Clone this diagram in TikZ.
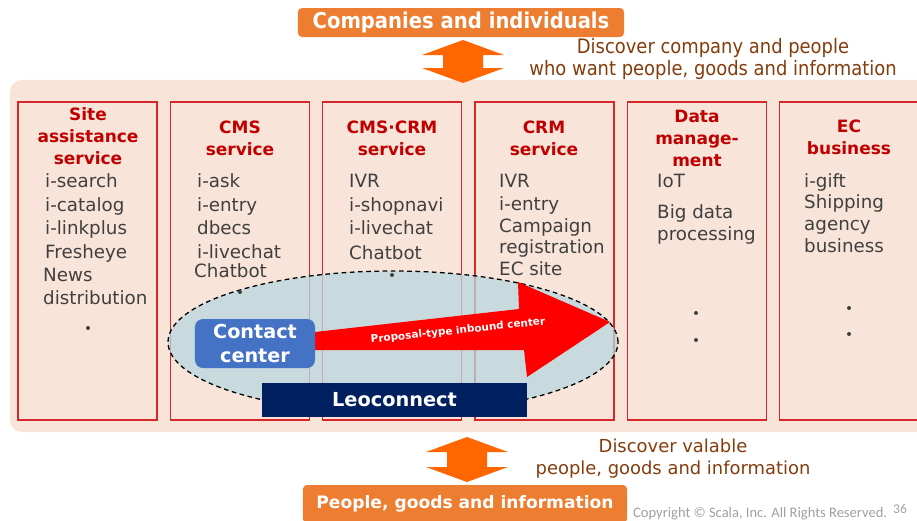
\documentclass[tikz,border=0pt]{standalone}
\usepackage{fontspec}
\setmainfont{DejaVu Sans}
\newfontfamily\narrowfont{DejaVu Sans}[FakeStretch=0.9]
\newfontfamily\copyfont{Carlito}
\usetikzlibrary{shapes.geometric,positioning}

\definecolor{panelfill}{RGB}{248,228,216}
\definecolor{colborder}{RGB}{214,40,40}
\definecolor{titlered}{RGB}{192,0,0}
\definecolor{itemgray}{RGB}{64,64,64}
\definecolor{boxorange}{RGB}{237,125,49}
\definecolor{arroworange}{RGB}{255,102,0}
\definecolor{notebrown}{RGB}{132,60,12}
\definecolor{ccblue}{RGB}{68,114,196}
\definecolor{leonavy}{RGB}{0,32,96}
\definecolor{ovalfill}{RGB}{185,215,225}
\definecolor{copygray}{RGB}{160,160,160}

\tikzset{%
  % Specifications for style of the blocks:
   panel/.style = {rectangle, rounded corners=0.36cm, fill=panelfill,
                  minimum width=27.6cm, minimum height=10.56cm},
   service/.style = {rectangle, draw=colborder, line width=1.1pt, fill=panelfill,
                  minimum width=4.17cm, minimum height=9.54cm},
   banner/.style = {rectangle, rounded corners=0.12cm, fill=boxorange,
                  text=white, inner sep=0pt},
   contact/.style = {rectangle, rounded corners=0.24cm, fill=ccblue, text=white,
                  minimum width=3.6cm, minimum height=1.47cm, align=center,
                  font=\fontsize{16.4}{20.4}\selectfont\bfseries},
   leo/.style = {rectangle, fill=leonavy, text=white,
                  minimum width=7.95cm, minimum height=1.02cm,
                  font=\fontsize{16.5}{20}\selectfont\bfseries},
   oval/.style = {ellipse, draw=black, line width=1.1pt, dash pattern=on 4pt off 3pt,
                  fill=ovalfill, fill opacity=0.75, inner sep=0pt,
                  minimum width=13.5cm, minimum height=4.26cm},
  % Specifications for style of the texts:
   coltitle/.style = {font=\fontsize{14.5}{18}\selectfont\bfseries, text=titlered,
                  inner sep=0pt, anchor=base},
   item/.style = {font=\fontsize{15.6}{19}\selectfont, text=itemgray,
                  inner sep=0pt, anchor=base west},
   moredot/.style = {circle, fill=itemgray, inner sep=0pt, minimum size=3.4pt},
   note/.style = {text=notebrown, align=center, inner sep=0pt},
  % Specifications for style of the arrows:
   twoway/.style = {fill=arroworange},
   proposal/.style = {fill=red},
}

\begin{document}
\begin{tikzpicture}[x=0.03cm, y=-0.03cm]
  \clip (0,0) rectangle (917,520);

  % Panel and service columns
  \node (panel) [panel] at (470,256) {};
  \node (col1) [service] at (87.5,261) {};
  \node (col2) [service, right=0.36cm of col1] {};
  \node (col3) [service, right=0.36cm of col2] {};
  \node (col4) [service, right=0.36cm of col3] {};
  \node (col5) [service, right=0.36cm of col4] {};
  \node (col6) [service, right=0.36cm of col5] {};

  % Customer area
  \node (oval) [oval] at (393,342) {};

  % Column titles
  \foreach \t [count=\i] in {Site,assistance,service}
    \node (t1-\i) [coltitle] at (88,98+22*\i) {\t};
  \foreach \t [count=\i] in {CMS,service}
    \node (t2-\i) [coltitle] at (240,111+22*\i) {\t};
  \foreach \t [count=\i] in {CMS·CRM,service}
    \node (t3-\i) [coltitle] at (392,111+22*\i) {\t};
  \foreach \t [count=\i] in {CRM,service}
    \node (t4-\i) [coltitle] at (544,111+22*\i) {\t};
  \foreach \t [count=\i] in {Data,manage-,ment}
    \node (t5-\i) [coltitle] at (697,100+22*\i) {\t};
  \foreach \t [count=\i] in {EC,business}
    \node (t6-\i) [coltitle] at (849,110+22*\i) {\t};

  % Column items
  \foreach \y/\t [count=\i] in {187/i-search,211/i-catalog,234/i-linkplus,258/Fresheye}
    \node (s1-\i) [item] at (45,\y) {\t};
  \node (s1-5) [item] at (43,281) {News};
  \node (s1-6) [item] at (43,304) {distribution};
  \foreach \y/\t [count=\i] in {187/i-ask,211/i-entry,234/dbecs,258/i-livechat}
    \node (s2-\i) [item] at (197,\y) {\t};
  \node (s2-5) [item] at (194,277) {Chatbot};
  \foreach \y/\t [count=\i] in {187/IVR,211/i-shopnavi,234/i-livechat,259/Chatbot}
    \node (s3-\i) [item] at (349,\y) {\t};
  \foreach \y/\t [count=\i] in {187/IVR,210/i-entry,232/Campaign,253/registration,275/EC site}
    \node (s4-\i) [item] at (499,\y) {\t};
  \foreach \y/\t [count=\i] in {187/IoT,218/Big data,240/processing}
    \node (s5-\i) [item] at (657,\y) {\t};
  \foreach \y/\t [count=\i] in {187/i-gift,208/Shipping,230/agency,252/business}
    \node (s6-\i) [item] at (804,\y) {\t};

  % Continuation marks
  \foreach \x/\y [count=\i] in {88/328,240/292,392/275,696/313,696/340,849/308,849/334}
    \node (dot\i) [moredot] at (\x,\y) {};

  % Proposal arrow and centre blocks
  \coordinate (tip) at (610,322);
  \fill[proposal] (315,332) -- (519,309) -- (518,282) -- (tip) -- (527,377)
                  -- (524,350) -- (315,350) -- cycle;
  \node (proplabel) [text=white, rotate=6, inner sep=0pt,
                     font=\fontsize{8.9}{10}\selectfont\bfseries] at (458,331)
                     {Proposal-type inbound center};
  \node (contact) [contact] at (255,343.5) {Contact\\center};
  \node (leo) [leo] at (394.5,400) {Leoconnect};

  % Top and bottom
  \node (companies) [banner, minimum width=9.78cm, minimum height=0.87cm,
                     font=\narrowfont\fontsize{18.6}{20}\selectfont\bfseries]
                     at (461,22.5) {Companies and individuals};
  \node (goods) [banner, minimum width=9.72cm, minimum height=1.14cm,
                 font=\fontsize{14.6}{18}\selectfont\bfseries]
                 at (465,504) {People, goods and information};

  \coordinate (uparrow) at (463,40);
  \fill[twoway] (uparrow) -- ++(41,15) -- ++(-21,0) -- ++(0,13) -- ++(21,0)
                -- ++(-41,15) -- ++(-41,-15) -- ++(21,0) -- ++(0,-13) -- ++(-21,0) -- cycle;
  \coordinate (downarrow) at (467,437);
  \fill[twoway] (downarrow) -- ++(41,15) -- ++(-21,0) -- ++(0,15) -- ++(21,0)
                -- ++(-41,15) -- ++(-41,-15) -- ++(21,0) -- ++(0,-15) -- ++(-21,0) -- cycle;

  \node (topnote) [note, font=\narrowfont\fontsize{17}{18.7}\selectfont] at (713,59)
        {Discover company and people\\who want people, goods and information};
  \node (bottomnote) [note, font=\fontsize{15.3}{18.7}\selectfont] at (673,459)
        {Discover valable\\people, goods and information};

  \node (copyright) [anchor=base west, inner sep=0pt, text=copygray,
                     font=\copyfont\fontsize{12.4}{14}\selectfont] at (633,517)
        {Copyright © Scala, Inc. All Rights Reserved.};
  \node (pageno) [anchor=base west, inner sep=0pt, text=copygray,
                  font=\copyfont\fontsize{11.5}{14}\selectfont] at (893,513) {36};
\end{tikzpicture}
\end{document}
